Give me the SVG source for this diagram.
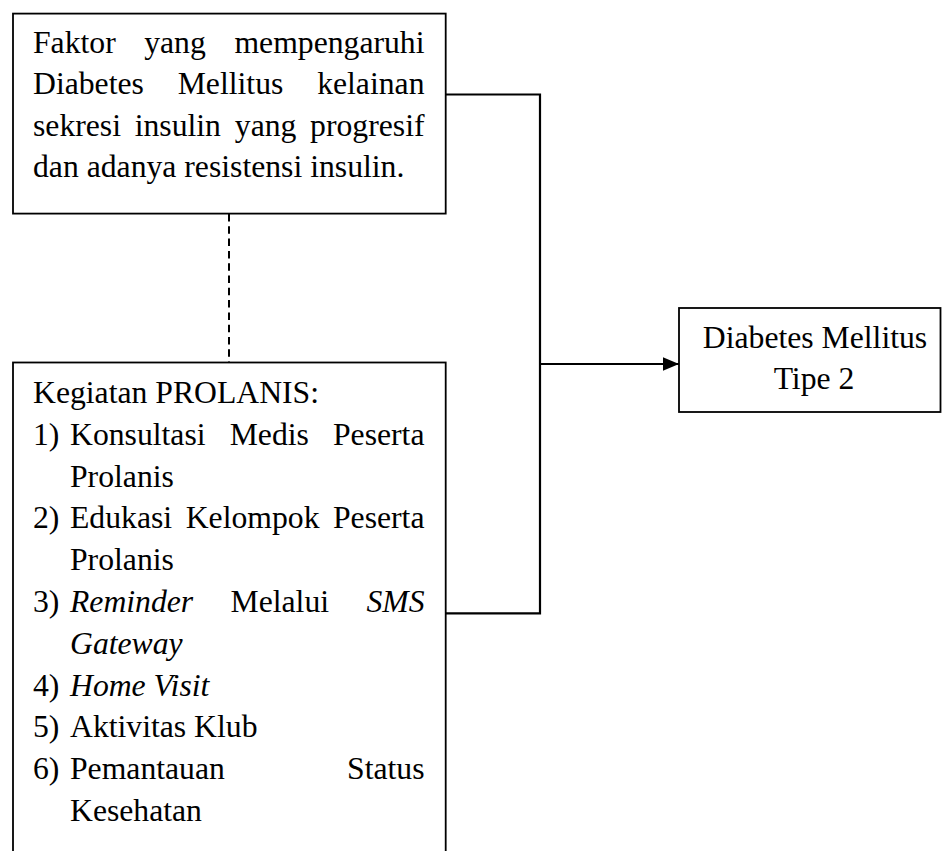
<svg xmlns="http://www.w3.org/2000/svg" width="942" height="851" viewBox="0 0 942 851">
<style>
  text { font-family: "Liberation Serif", "Times New Roman", serif; font-size: 31.7px; fill: #000; }
  .it { font-style: italic; }
  .box { fill: #fff; stroke: #000; stroke-width: 1.8; }
  .conn { fill: none; stroke: #000; stroke-width: 2.2; }
  .dash { fill: none; stroke: #000; stroke-width: 2; stroke-dasharray: 7.5 4.8; }
</style>
<defs>
  <marker id="arrow" markerUnits="userSpaceOnUse" markerWidth="16" markerHeight="14" refX="16" refY="7" orient="auto">
    <path d="M0,0.3 L16,7 L0,13.7 Z" fill="#000"/>
  </marker>
</defs>
<rect width="942" height="851" fill="#fff"/>

<g id="connectors">
  <line class="dash" x1="229" y1="214" x2="229" y2="362.5"/>
  <polyline class="conn" points="445.7,94.5 540,94.5 540,613.3 445.7,613.3"/>
  <line class="conn" x1="540" y1="364" x2="679" y2="364" marker-end="url(#arrow)"/>
</g>

<g id="node-faktor">
  <rect class="box" x="13" y="13.6" width="432.7" height="200"/>
  <text x="33" y="52.5">Faktor</text>
  <text x="175" y="52.5" text-anchor="middle">yang</text>
  <text x="424.5" y="52.5" text-anchor="end">mempengaruhi</text>
  <text x="33" y="94">Diabetes</text>
  <text x="230.5" y="94" text-anchor="middle">Mellitus</text>
  <text x="424.5" y="94" text-anchor="end">kelainan</text>
  <text x="33" y="135.5">sekresi</text>
  <text x="134.7" y="135.5">insulin</text>
  <text x="234.8" y="135.5">yang</text>
  <text x="424.5" y="135.5" text-anchor="end">progresif</text>
  <text x="33" y="177">dan adanya resistensi insulin.</text>
</g>

<g id="node-prolanis">
  <rect class="box" x="13" y="362.5" width="432.7" height="520"/>
  <text x="33" y="403">Kegiatan PROLANIS:</text>
  <text x="33" y="444.8">1)</text>
  <text x="70" y="444.8">Konsultasi</text>
  <text x="269.3" y="444.8" text-anchor="middle">Medis</text>
  <text x="424.5" y="444.8" text-anchor="end">Peserta</text>
  <text x="70" y="486.6">Prolanis</text>
  <text x="33" y="528.4">2)</text>
  <text x="70" y="528.4">Edukasi</text>
  <text x="252.6" y="528.4" text-anchor="middle">Kelompok</text>
  <text x="424.5" y="528.4" text-anchor="end">Peserta</text>
  <text x="70" y="570.2">Prolanis</text>
  <text x="33" y="612">3)</text>
  <text class="it" x="70" y="612">Reminder</text>
  <text x="279.8" y="612" text-anchor="middle">Melalui</text>
  <text class="it" x="424.5" y="612" text-anchor="end">SMS</text>
  <text class="it" x="70" y="653.8">Gateway</text>
  <text x="33" y="695.6">4)</text>
  <text class="it" x="70" y="695.6">Home Visit</text>
  <text x="33" y="737.4">5)</text>
  <text x="70" y="737.4">Aktivitas Klub</text>
  <text x="33" y="779.2">6)</text>
  <text x="70" y="779.2">Pemantauan</text>
  <text x="424.5" y="779.2" text-anchor="end">Status</text>
  <text x="70" y="821">Kesehatan</text>
</g>

<g id="node-dm2">
  <rect class="box" x="679" y="308" width="261.5" height="104"/>
  <text x="815" y="348" text-anchor="middle">Diabetes Mellitus</text>
  <text x="814" y="389" text-anchor="middle">Tipe 2</text>
</g>
</svg>
